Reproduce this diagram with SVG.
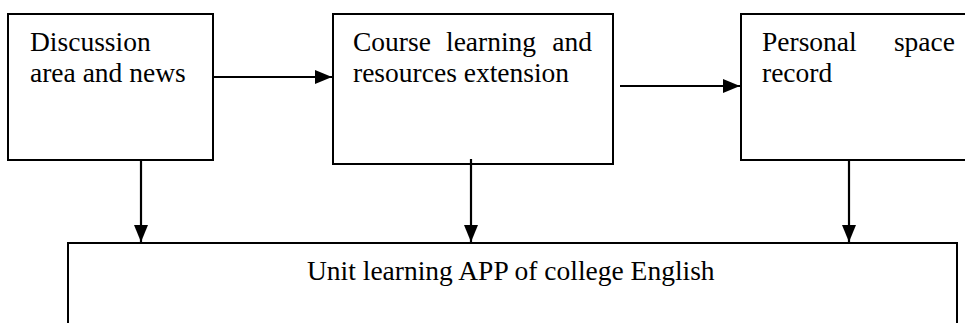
<svg xmlns="http://www.w3.org/2000/svg" width="965" height="323" viewBox="0 0 965 323">
<style>
.box{fill:#fff;stroke:#000;stroke-width:2}
.t{font-family:"Liberation Serif","Times New Roman",serif;font-size:27.5px;fill:#000}
.c{stroke:#000;stroke-width:2.2;fill:none}
</style>
<defs>
<marker id="ah" markerUnits="userSpaceOnUse" markerWidth="17" markerHeight="14" refX="17" refY="7" orient="auto">
<path d="M0,0 L17,7 L0,14 Z" fill="#000"/>
</marker>
</defs>
<rect width="965" height="323" fill="#fff"/>
<g id="node-discussion">
<rect class="box" x="8" y="14" width="205" height="146"/>
<text class="t" x="30" y="51">Discussion</text>
<text class="t" x="30" y="82">area and news</text>
</g>
<g id="node-course">
<rect class="box" x="333" y="14" width="280" height="150"/>
<text class="t" x="353" y="51">Course</text>
<text class="t" x="446" y="51">learning</text>
<text class="t" x="592" y="51" text-anchor="end">and</text>
<text class="t" x="353" y="82">resources extension</text>
</g>
<g id="node-personal">
<rect class="box" x="741" y="14" width="240" height="146"/>
<text class="t" x="762" y="51">Personal</text>
<text class="t" x="955" y="51" text-anchor="end">space</text>
<text class="t" x="762" y="82">record</text>
</g>
<g id="node-app">
<rect class="box" x="68" y="243" width="889" height="100"/>
<text class="t" x="307" y="280">Unit learning APP of college English</text>
</g>
<g id="connectors">
<line class="c" x1="213" y1="77" x2="332" y2="77" marker-end="url(#ah)"/>
<line class="c" x1="620" y1="86" x2="740" y2="86" marker-end="url(#ah)"/>
<line class="c" x1="141" y1="160" x2="141" y2="242" marker-end="url(#ah)"/>
<line class="c" x1="471" y1="159" x2="471" y2="242" marker-end="url(#ah)"/>
<line class="c" x1="849" y1="160" x2="849" y2="242" marker-end="url(#ah)"/>
</g>
</svg>
